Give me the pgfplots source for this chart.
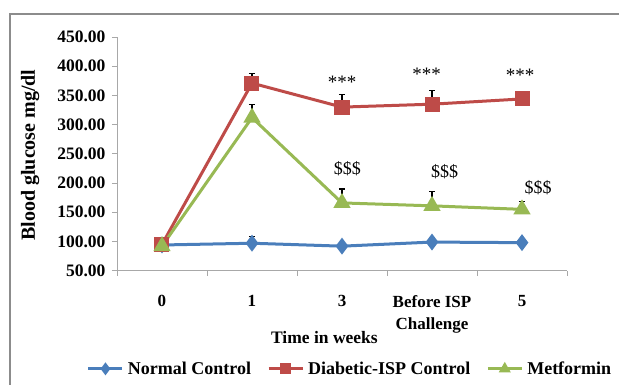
\documentclass[border=0pt]{standalone}
\usepackage{pgfplots}
\pgfplotsset{compat=1.18}
\usepackage{fontspec}
\setmainfont{Liberation Serif}
\definecolor{nc}{HTML}{4A7EBB}
\definecolor{dc}{HTML}{BE4B48}
\definecolor{mc}{HTML}{98B954}
\definecolor{ax}{HTML}{A8A8A8}
\definecolor{fr}{HTML}{8C8C8C}
\begin{document}
\begin{tikzpicture}[x=1pt,y=1pt]
\path[use as bounding box] (0,0) rectangle (619,385);
\draw[fr, line width=1.3pt] (10,0) -- (10,371) -- (619,371);
\begin{axis}[
  at={(117pt,114.3pt)}, anchor=south west,
  width=450pt, height=233.7pt, scale only axis,
  xmin=0, xmax=5, ymin=50, ymax=450,
  axis x line*=bottom, axis y line*=left,
  axis line style={ax, line width=0.9pt},
  xtick={0,1,2,3,4,5}, xticklabels={},
  major tick length=5pt,
  tick style={ax, line width=0.9pt},
  xtick pos=bottom, ytick pos=left,
  tick align=outside,
  ytick={50,100,...,450},
  yticklabel style={font=\fontsize{17.5}{18}\selectfont\bfseries, xshift=-3pt},
  /pgf/number format/.cd, fixed, fixed zerofill, precision=2, assume math mode=true,
  /pgfplots/.cd,
  extra x ticks={0.5,1.5,2.5,3.5,4.5},
  extra x tick labels={0,1,3,{Before ISP\\Challenge},5},
  extra x tick style={major tick length=0pt, ticklabel style={font=\fontsize{17}{22}\selectfont\bfseries, align=center, anchor=north, yshift=-21pt}},
  xlabel={Time in weeks},
  xlabel style={font=\fontsize{17.5}{18}\selectfont\bfseries, at={(axis description cs:0.461,0)}, anchor=center, yshift=-66.5pt},
  ylabel={Blood glucose mg/dl},
  ylabel style={font=\fontsize{20}{20}\selectfont\bfseries, at={(axis description cs:-0.193,0.495)}, anchor=center},
  clip=false,
  legend columns=3,
  legend style={at={(0.518,-0.42)}, anchor=center, draw=none, fill=none, font=\fontsize{18}{18}\selectfont\bfseries, inner sep=0pt, /tikz/every odd column/.append style={column sep=2pt}, /tikz/every even column/.append style={column sep=14pt}},
  legend image code/.code={\draw[mark repeat=2, mark phase=2, #1, mark size=4pt] plot coordinates {(0pt,0pt) (17pt,0pt) (34pt,0pt)};},
  error bars/error bar style={black, line width=1.2pt},
  error bars/error mark options={black, line width=1.2pt, mark size=3pt, rotate=90},
]
\addplot[nc, line width=3pt, mark=diamond*, mark size=6pt, mark options={solid, fill=nc},
  error bars/.cd, y dir=plus, y explicit]
  coordinates {(0.5,94) +- (0,0) (1.5,97) +- (0,11) (2.5,92) +- (0,0) (3.5,99) +- (0,0) (4.5,98) +- (0,0)};
\addlegendentry{Normal Control}
\addplot[dc, line width=3pt, mark=square*, mark size=6pt, mark options={solid, fill=dc},
  error bars/.cd, y dir=plus, y explicit]
  coordinates {(0.5,95) +- (0,0) (1.5,371) +- (0,17) (2.5,330) +- (0,21) (3.5,335) +- (0,23) (4.5,344) +- (0,9)};
\addlegendentry{Diabetic-ISP Control}
\addplot[mc, line width=3pt, mark=triangle*, mark size=7pt, mark options={solid, fill=mc},
  error bars/.cd, y dir=plus, y explicit]
  coordinates {(0.5,92) +- (0,0) (1.5,312) +- (0,22) (2.5,166) +- (0,24) (3.5,161) +- (0,24) (4.5,155) +- (0,14)};
\addlegendentry{Metformin}
\node[font=\fontsize{19}{19}\selectfont] at (axis cs:2.5,372) {***};
\node[font=\fontsize{19}{19}\selectfont] at (axis cs:3.44,387) {***};
\node[font=\fontsize{19}{19}\selectfont] at (axis cs:4.48,384) {***};
\node[font=\fontsize{18}{18}\selectfont] at (axis cs:2.56,224) {\$\$\$};
\node[font=\fontsize{18}{18}\selectfont] at (axis cs:3.64,219) {\$\$\$};
\node[font=\fontsize{18}{18}\selectfont] at (axis cs:4.68,192) {\$\$\$};
\end{axis}
\end{tikzpicture}
\end{document}
